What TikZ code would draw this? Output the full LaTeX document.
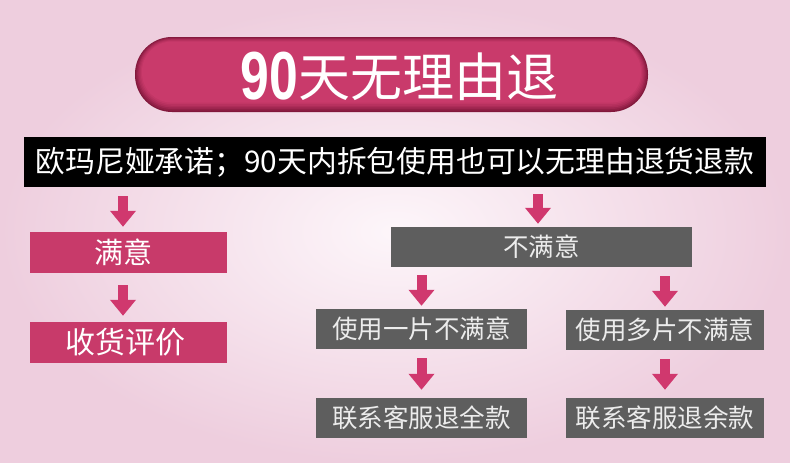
\documentclass[tikz,border=0pt]{standalone}
\usepackage{fontspec}
\usetikzlibrary{arrows.meta}
\newfontfamily\cjk{Noto Sans CJK SC}
\newfontfamily\digitfont{Liberation Sans}
\definecolor{bgout}{RGB}{238,206,222}
\definecolor{bgin}{RGB}{253,246,250}
\definecolor{pinkbox}{RGB}{200,58,106}
\definecolor{arrowpink}{RGB}{208,56,110}
\definecolor{graybox}{RGB}{94,94,94}
\definecolor{graytext}{RGB}{236,236,236}
\definecolor{pillrim}{RGB}{130,24,60}
\definecolor{pillcore}{RGB}{201,58,107}
\tikzset{
  box/.style={rectangle, inner sep=0pt, font=\cjk, align=center},
  pinkstep/.style={box, fill=pinkbox, text=white, minimum width=197pt, minimum height=41pt, font=\cjk\fontsize{29}{31}\selectfont},
  graystep/.style={box, fill=graybox, text=graytext, minimum height=40pt, font=\cjk\fontsize{25.5}{27}\selectfont},
  blockarrow/.style={draw=arrowpink, line width=10pt, line cap=butt, -{Triangle[width=25pt,length=16pt]}},
}
\begin{document}
\begin{tikzpicture}[x=1pt,y=-1pt]
\useasboundingbox (0,0) rectangle (790,463);
\shade[inner color=bgin, outer color=bgout] (0,0) rectangle (790,463);
% title pill
\node[rectangle, minimum width=513pt, minimum height=75pt, inner sep=0pt, rounded corners=37pt, fill=pillrim] (title) at (391.5,74.5) {};
\foreach \i/\p in {1/20,2/40,3/60,4/75,5/88,6/100}{
  \fill[pillcore!\p!pillrim, rounded corners={37pt-1.2pt*\i}] ([shift={(1.2*\i,0.8*\i)}]title.north west) rectangle ([shift={(-1.2*\i,-1.6*\i)}]title.south east);
}
\node[inner sep=0pt, text=white, anchor=center] (titletext) at ([xshift=8pt,yshift=-2pt]title.center)
  {\raisebox{-3pt}{\digitfont\bfseries\fontsize{68}{68}\selectfont\scalebox{0.76}[1]{90}}\cjk\fontsize{52}{56}\selectfont 天无理由退};
% banner
\node[box, fill=black, text=white, minimum width=742pt, minimum height=50pt, font=\cjk\fontsize{29.8}{31}\selectfont] (banner) at (395,162) {欧玛尼娅承诺；90天内拆包使用也可以无理由退货退款};
% left branch
\node[pinkstep] (sat) at (128.5,252.5) {\hspace*{-10pt}满意};
\node[pinkstep, font=\cjk\fontsize{30}{32}\selectfont] (eval) at (128.5,342.5) {\hspace*{-6pt}收货评价};
% right branch
\node[graystep, minimum width=301pt] (nots) at (541.5,247) {不满意};
\node[graystep, minimum width=211pt] (one) at (421.5,329) {使用一片不满意};
\node[graystep, minimum width=198pt] (many) at (665,330) {使用多片不满意};
\node[graystep, minimum width=211pt] (full) at (421.5,418) {联系客服退全款};
\node[graystep, minimum width=198pt] (rest) at (665,418) {联系客服退余款};
% arrows
\draw[blockarrow, shorten <=9pt, shorten >=5pt] ([xshift=-5.5pt]banner.south -| sat.north) -- ([xshift=-5.5pt]sat.north);
\draw[blockarrow, shorten <=7pt, shorten >=3pt] ([xshift=-3.5pt]banner.south -| nots.north) -- ([xshift=-3.5pt]nots.north);
\draw[blockarrow, shorten <=12pt, shorten >=6pt] ([xshift=-5.5pt]sat.south) -- ([xshift=-5.5pt]eval.north);
\draw[blockarrow, shorten <=8pt, shorten >=3pt] (nots.south -| one.north) -- (one.north);
\draw[blockarrow, shorten <=9pt, shorten >=3pt] (nots.south -| many.north) -- (many.north);
\draw[blockarrow, shorten <=9pt, shorten >=8pt] (one.south) -- (full.north);
\draw[blockarrow, shorten <=9pt, shorten >=8pt] (many.south) -- (rest.north);
\end{tikzpicture}
\end{document}
